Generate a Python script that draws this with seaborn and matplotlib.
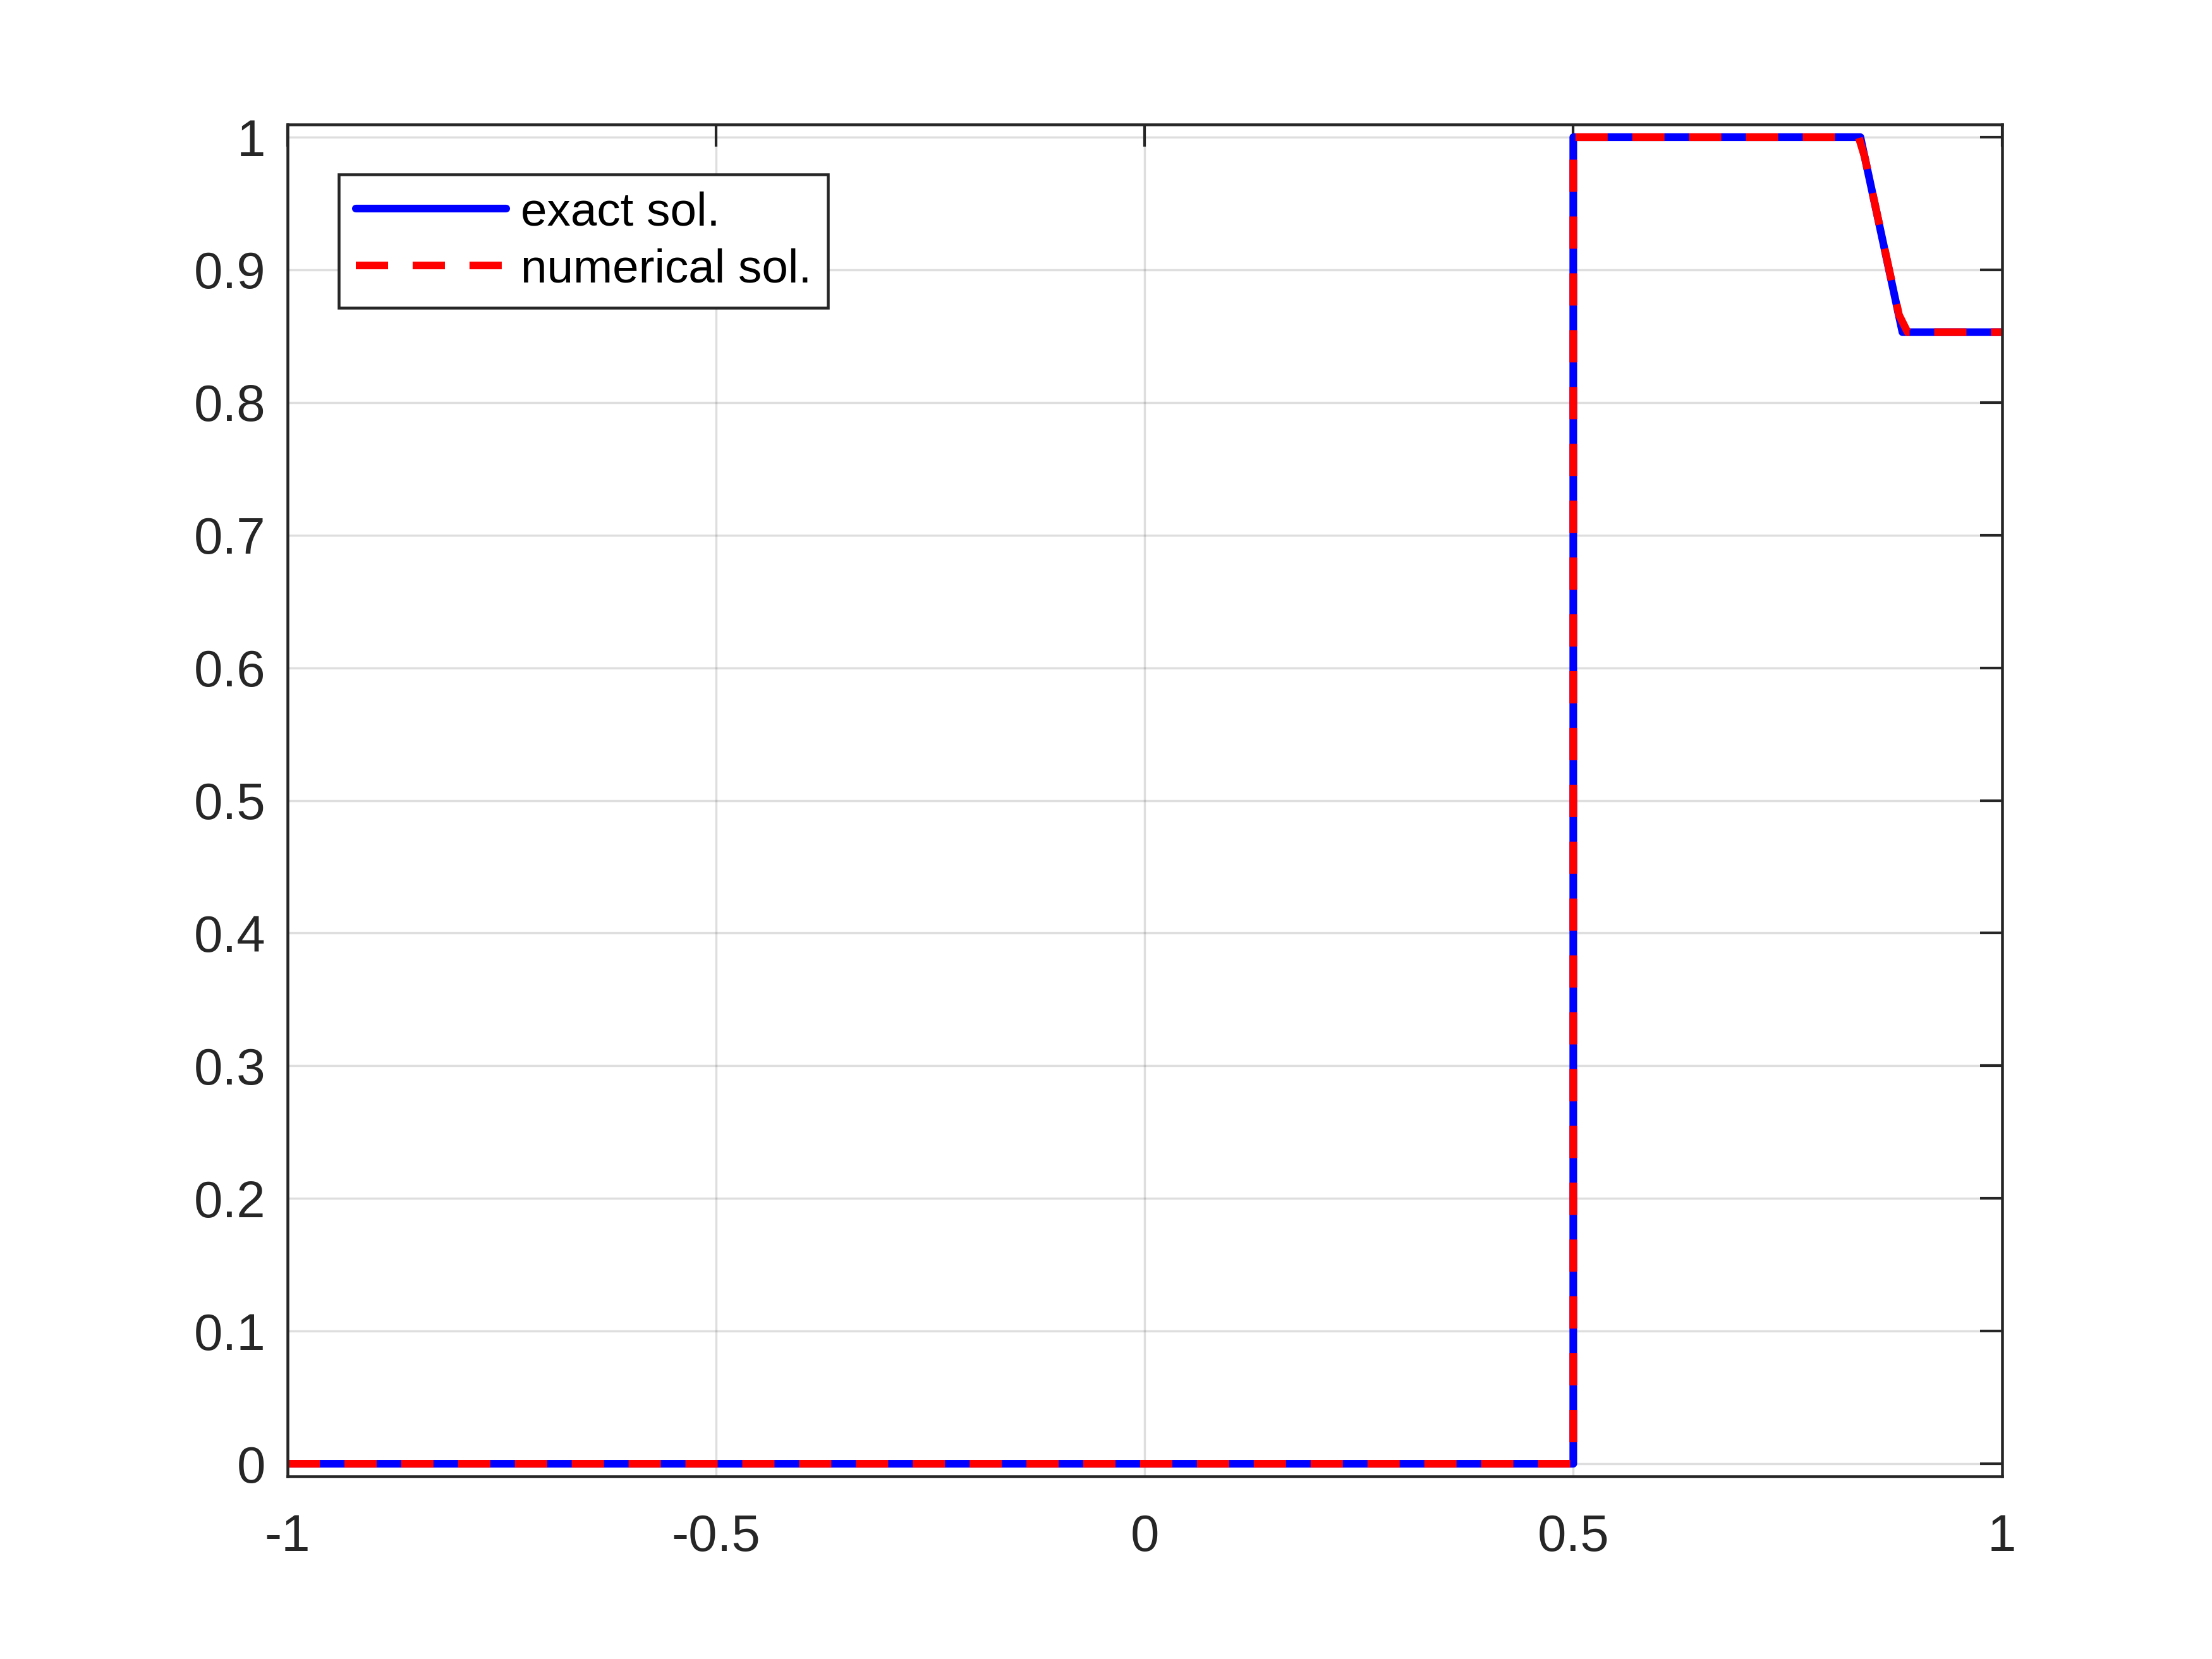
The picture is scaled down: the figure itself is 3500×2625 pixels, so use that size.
import numpy as np
import pandas as pd
import matplotlib
matplotlib.use("Agg")
import matplotlib.pyplot as plt
import seaborn as sns

# breakpoints of the exact and numerical solutions
x_exact = [-1.0, 0.5, 0.5, 0.835, 0.884, 1.0]
u_exact = [0.0, 0.0, 1.0, 1.0, 0.853, 0.853]

x_num = [-1.0, 0.5, 0.5, 0.833, 0.84, 0.88, 0.89, 1.0]
u_num = [0.0, 0.0, 1.0, 1.0, 0.985, 0.866, 0.853, 0.853]

x_ticks = [-1, -0.5, 0, 0.5, 1]
y_ticks = [0, 0.1, 0.2, 0.3, 0.4, 0.5, 0.6, 0.7, 0.8, 0.9, 1]

sns.set_style("white")
plt.rcParams['font.family'] = ['Liberation Sans', 'DejaVu Sans']

df_exact = pd.DataFrame({"x": x_exact, "u": u_exact})
df_num = pd.DataFrame({"x": x_num, "u": u_num})

fig = plt.figure(figsize=(14, 10.5), dpi=250)
ax = fig.add_axes([0.13, 0.11, 0.775, 0.815])

sns.lineplot(data=df_exact, x="x", y="u", ax=ax, color="#0000ff", lw=3.5,
             estimator=None, sort=False, label="exact sol.")
sns.lineplot(data=df_num, x="x", y="u", ax=ax, color="#ff0000", lw=3.5,
             estimator=None, sort=False, label="numerical sol.",
             dashes=False)
ax.lines[1].set_dashes([4.2, 3.2])

ax.set_xlim(-1, 1)
ax.set_ylim(-0.0096, 1.0096)
ax.set_xticks(x_ticks)
ax.set_xticklabels(["-1", "-0.5", "0", "0.5", "1"])
ax.set_yticks(y_ticks)
ax.set_yticklabels(["0", "0.1", "0.2", "0.3", "0.4", "0.5", "0.6", "0.7", "0.8", "0.9", "1"])
ax.set_xlabel("")
ax.set_ylabel("")

ax.grid(True, color="#262626", alpha=0.15, lw=1.0)
ax.set_axisbelow(True)
ax.tick_params(direction="in", length=10, width=1.2, colors="#262626",
               labelsize=23.5, top=True, right=True, pad=10)
ax.tick_params(axis="x", pad=17)
for s in ax.spines.values():
    s.set_color("#262626")
    s.set_linewidth(1.3)

leg = ax.legend(loc="upper left", bbox_to_anchor=(0.03, 0.963), borderaxespad=0,
                fontsize=21.5, handlelength=3.2, handletextpad=0.3,
                fancybox=False, framealpha=1, edgecolor="#262626",
                borderpad=0.35, labelspacing=0.28, labelcolor="black")
leg.get_frame().set_linewidth(1.3)

fig.savefig("out.png", dpi=250, facecolor="white")
